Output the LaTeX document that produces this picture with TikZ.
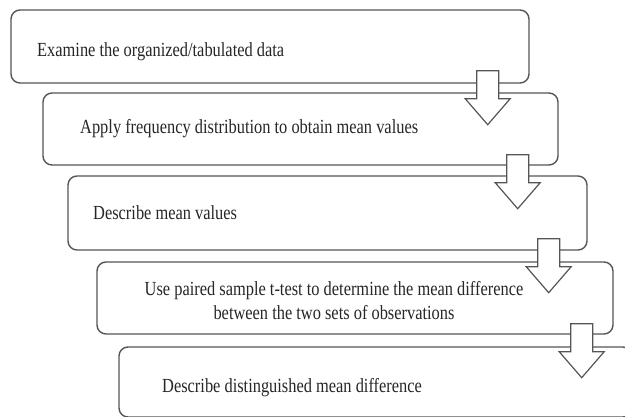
\documentclass[tikz,border=0pt]{standalone}
\usepackage{fontspec}
\setmainfont{Liberation Serif}[FakeStretch=0.82]
\usetikzlibrary{calc}
\definecolor{boxgray}{RGB}{85,85,85}
\tikzset{
  stepbox/.style={draw=boxgray, line width=1.4pt, rounded corners=9pt},
  steptext/.style={right, inner sep=0pt, text=black!85, font=\fontsize{20}{24}\selectfont},
  downarrow/.style={draw=boxgray, line width=1.2pt, fill=white}
}

\begin{document}
\begin{tikzpicture}[x=1pt, y=-1pt]
    \useasboundingbox (0,0) rectangle (625,417);
    \node[stepbox, minimum width=518pt, minimum height=73pt] (b1) at (270,46.5) {};
    \node[stepbox, minimum width=515pt, minimum height=72pt] (b2) at (300.5,129) {};
    \node[stepbox, minimum width=519pt, minimum height=74pt] (b3) at (327.5,213) {};
    \node[stepbox, minimum width=516pt, minimum height=72pt] (b4) at (355,298) {};
    \node[stepbox, minimum width=513pt, minimum height=70pt] (b5) at (375.5,382) {};
    \node[steptext] (t1) at (37,52) {Examine the organized/tabulated data};
    \node[steptext] (t2) at (80,129) {Apply frequency distribution to obtain mean values};
    \node[steptext] (t3) at (93,213) {Describe mean values};
    \node[steptext, anchor=center, align=center] (t4) at (334,301) {Use paired sample t-test to determine the mean difference\\between the two sets of observations};
    \node[steptext] (t5) at (162,388) {Describe distinguished mean difference};
    \coordinate (a1) at ($(b1.south east)+(-42,-13)$);
    \coordinate (a2) at ($(b2.south east)+(-41,-11)$);
    \coordinate (a3) at ($(b3.south east)+(-39,-12)$);
    \coordinate (a4) at ($(b4.south east)+(-32,-11)$);
    \draw[downarrow] (a1) ++(-11,0) -- ++(0,28) -- ++(-11.5,0) -- ++(22.5,26) -- ++(22.5,-26) -- ++(-11.5,0) -- ++(0,-28) -- cycle;
    \draw[downarrow] (a2) ++(-11,0) -- ++(0,28) -- ++(-11.5,0) -- ++(22.5,26) -- ++(22.5,-26) -- ++(-11.5,0) -- ++(0,-28) -- cycle;
    \draw[downarrow] (a3) ++(-11,0) -- ++(0,28) -- ++(-11.5,0) -- ++(22.5,26) -- ++(22.5,-26) -- ++(-11.5,0) -- ++(0,-28) -- cycle;
    \draw[downarrow] (a4) ++(-11,0) -- ++(0,28) -- ++(-11.5,0) -- ++(22.5,26) -- ++(22.5,-26) -- ++(-11.5,0) -- ++(0,-28) -- cycle;
\end{tikzpicture}
\end{document}
